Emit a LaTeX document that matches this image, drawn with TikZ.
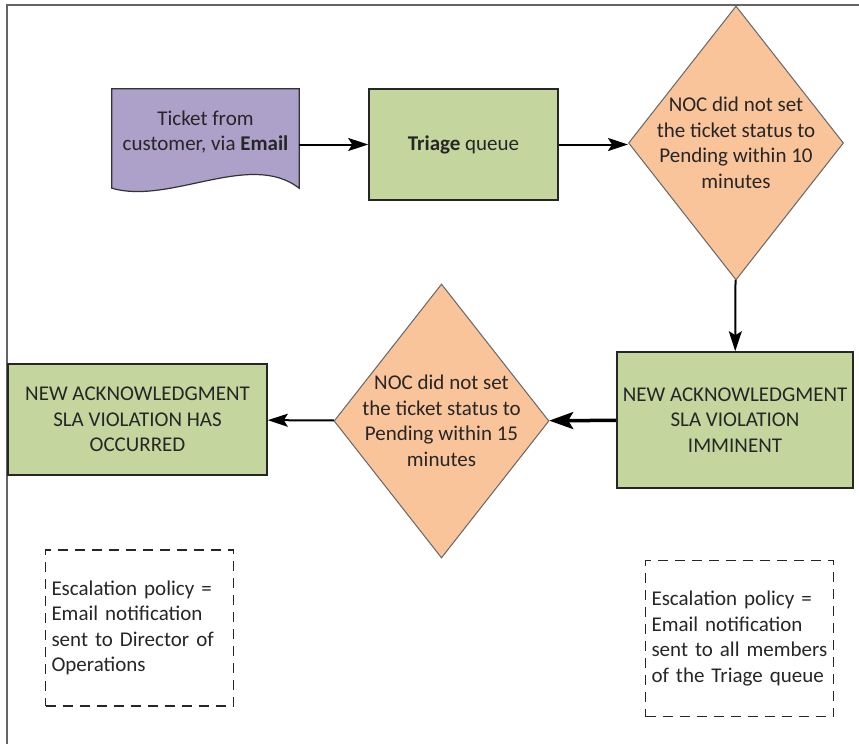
\documentclass[tikz,border=0pt]{standalone}
\usepackage{fontspec}
\setmainfont{Carlito}
\usetikzlibrary{positioning,shapes.geometric,arrows.meta,backgrounds}
\definecolor{docpurple}{RGB}{173,160,201}
\definecolor{boxgreen}{RGB}{196,214,158}
\definecolor{decorange}{RGB}{250,196,154}
\definecolor{framegray}{RGB}{100,100,100}
\tikzset{green box/.style={draw=black!85, line width=1.6pt, fill=boxgreen, align=center, inner sep=0pt}}
\tikzset{decision/.style={diamond, draw=black!60, line width=1pt, fill=decorange, inner sep=0pt, minimum width=215pt, minimum height=274pt}}
\tikzset{dashed note/.style={draw=black!85, line width=1.5pt, dash pattern=on 10pt off 7pt, align=left, text width=176pt, inner sep=6pt, minimum height=156pt}}
\tikzset{flow/.style={draw, line width=2pt, -{Stealth[length=20pt,width=13pt,inset=4pt]}}}
\tikzset{thick flow/.style={draw, line width=3.5pt, -{Stealth[length=24pt,width=17pt,inset=5pt]}}}

\begin{document}
\begin{tikzpicture}[x=1pt,y=-1pt,font=\fontsize{21}{25.5}\selectfont,text=black!85]
  \useasboundingbox (0,0) rectangle (859,744);
  \draw[framegray, line width=1.5pt] (7,744) -- (7,5) -- (859,5);

  % top row
  \node[align=center, minimum width=187pt, minimum height=86pt, inner sep=0pt] (ticket) at (205.5,132)
    {Ticket from\\customer, via \textbf{Email}};
  \begin{scope}[on background layer]
    \draw[black!80, line width=1.2pt, fill=docpurple]
      (ticket.north west) -- (ticket.north east) -- ([yshift=-13pt]ticket.south east)
      .. controls +(-49,-38) and +(58,17) .. ([yshift=-13pt]ticket.south west) -- cycle;
  \end{scope}
  \node[green box, minimum width=189pt, minimum height=111pt] (triage) at (463.5,144.5) {\textbf{Triage} queue};
  \node[decision] (noc1) at (736,143) {};
  \node[align=center] (noc1 text) at (noc1) {NOC did not set\\the ticket status to\\Pending within 10\\minutes};

  % middle row
  \node[green box, minimum width=236pt, minimum height=136pt] (imminent) at (735,420)
    {NEW ACKNOWLEDGMENT\\SLA VIOLATION\\IMMINENT};
  \node[decision] (noc2) at (441.5,421) {};
  \node[align=center] (noc2 text) at (noc2) {NOC did not set\\the ticket status to\\Pending within 15\\minutes};
  \node[green box, minimum width=259pt, minimum height=111pt] (occurred) at (137.5,419.5)
    {NEW ACKNOWLEDGMENT\\SLA VIOLATION HAS\\OCCURRED};

  % escalation notes
  \node[dashed note] (policy dir) at (139.5,628)
    {Escalation policy =\\Email notification\\sent to Director of\\Operations};
  \node[dashed note] (policy triage) at (739.5,638.5)
    {Escalation policy =\\Email notification\\sent to all members\\of the Triage queue};

  \path
    (ticket.east |- triage) edge[flow] (triage)
    (triage) edge[flow] (triage -| noc1.west)
    (noc1) edge[flow] (imminent)
    (noc2) edge[flow] (occurred)
    (imminent) edge[thick flow] (noc2);
\end{tikzpicture}
\end{document}
